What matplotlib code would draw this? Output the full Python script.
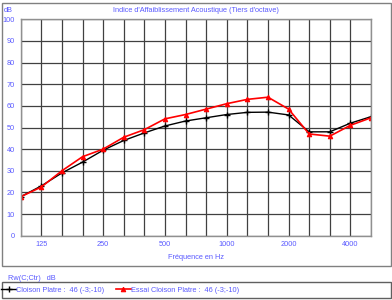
"""Indice d'affaiblissement acoustique, tiers d'octave."""

import matplotlib.pyplot as plt
from matplotlib.patches import Rectangle

# Third-octave bands (Hz)
freqs = [100, 125, 160, 200, 250, 315, 400, 500, 630, 800,
         1000, 1250, 1600, 2000, 2500, 3150, 4000, 5000]
tick_freqs = [125, 250, 500, 1000, 2000, 4000]

# Reduction index in dB
cloison = [18, 23, 29, 34, 39.5, 44, 47.5, 50.7, 53, 54.5,
           56, 57, 57.1, 55.8, 48, 48, 52, 55]
essai = [18, 22.5, 30, 36.5, 40, 45.5, 49, 54, 56, 58.5,
         61, 63, 64, 58.5, 47, 46, 51, 54.5]

label_cloison = "Cloison Platre :  46 (-3;-10)"
label_essai = "Essai Cloison Platre :  46 (-3;-10)"

BLUE = '#5a5aff'
W, H = 392, 300
FS = 5.3

plt.rcParams['font.family'] = ['Liberation Sans', 'DejaVu Sans']

fig = plt.figure(figsize=(W / 100, H / 100), dpi=100)
ax = fig.add_axes([20.7 / W, 1 - 235.7 / H, (371 - 20.7) / W, (235.7 - 19.3) / H])

x = list(range(len(freqs)))
line_c, = ax.plot(x, cloison, color='black', lw=1.0, marker='+', ms=4, mew=1.0,
                  label=label_cloison)
line_e, = ax.plot(x, essai, color='red', lw=1.2, marker='^', ms=3.2, mew=0.8,
                  label=label_essai)

ax.set_xlim(0, len(freqs) - 1)
ax.set_ylim(0, 100)
ax.set_xticks(x, minor=True)
ax.set_xticks([freqs.index(f) for f in tick_freqs])
ax.set_xticklabels([str(f) for f in tick_freqs])
ax.set_yticks(range(0, 101, 10))
ax.grid(True, which='both', axis='x', color='#404040', lw=0.9)
ax.grid(True, which='major', axis='y', color='#404040', lw=0.9)
ax.set_axisbelow(True)
ax.tick_params(which='both', length=0, labelsize=FS, labelcolor=BLUE, pad=4)
for spine in ax.spines.values():
    spine.set_color('#909090')
    spine.set_linewidth(1.0)

ax.set_xlabel("Fréquence en Hz", fontsize=FS, color=BLUE, labelpad=4)

fig.text(196 / W, 1 - 10 / H, "Indice d'Affaiblissement Acoustique (Tiers d'octave)",
         ha='center', va='center', fontsize=FS, color=BLUE)
fig.text(4 / W, 1 - 10 / H, "dB", ha='left', va='center', fontsize=FS, color=BLUE)
fig.text(8 / W, 1 - 278 / H, "Rw(C;Ctr)   dB", ha='left', va='center',
         fontsize=FS, color=BLUE)

# outer frame and legend frame
fig.patches.append(Rectangle((2 / W, 1 - 266 / H), 389 / W, 263 / H,
                             transform=fig.transFigure, fill=False,
                             ec='#808080', lw=1.0))
fig.patches.append(Rectangle((2 / W, 1 - 298 / H), 389 / W, 16 / H,
                             transform=fig.transFigure, fill=False,
                             ec='#606060', lw=1.0))

leg = fig.legend(handles=[line_c, line_e], loc='center left',
                 bbox_to_anchor=(0.0, 1 - 290 / H), ncol=2, frameon=False,
                 fontsize=FS, handlelength=2.0, handletextpad=0.0,
                 columnspacing=1.6, borderaxespad=0.0, borderpad=0.2)
for t in leg.get_texts():
    t.set_color(BLUE)

fig.savefig("out.png", dpi=100)
